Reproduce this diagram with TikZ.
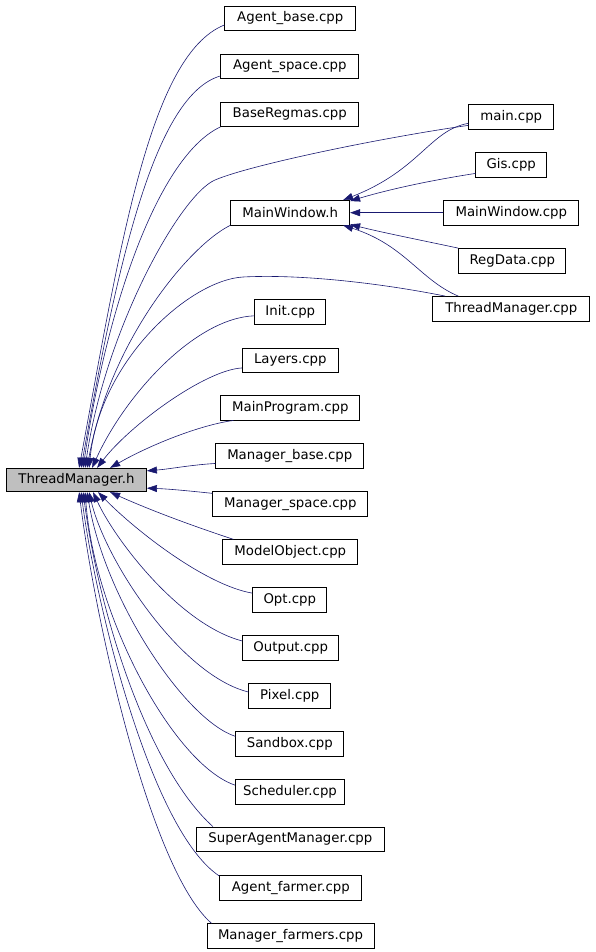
\documentclass[tikz,border=0pt]{standalone}
\usepackage{fontspec}
\setmainfont{DejaVu Sans}
\usetikzlibrary{arrows.meta,calc}
\definecolor{edgeblue}{HTML}{191970}
\definecolor{tmgray}{HTML}{BFBFBF}
\newcommand\dvsfont{\fontsize{13.3}{16}\selectfont}
\tikzset{
  box/.style={draw=black, line width=0.8pt, minimum height=24.5pt, inner sep=0pt, font=\dvsfont, fill=white},
  dep/.style={draw=edgeblue, line width=0.6pt, -{Triangle[length=10pt,width=7pt]}}
}
\begin{document}
\begin{tikzpicture}[x=1pt,y=-1pt]
\useasboundingbox (0,0) rectangle (595,952);
% nodes
\node[box, fill=tmgray, minimum width=140pt, minimum height=23.5pt] (tmh) at (76.5,480) {ThreadManager.h};
\node[box, minimum width=131pt] (ab) at (290.3,18.3) {Agent\_base.cpp};
\node[box, minimum width=138pt] (as) at (289.8,66.3) {Agent\_space.cpp};
\node[box, minimum width=138pt] (br) at (289.8,114.3) {BaseRegmas.cpp};
\node[box, minimum width=85pt] (main) at (511.3,116.7) {main.cpp};
\node[box, minimum width=71pt] (gis) at (511.2,164.8) {Gis.cpp};
\node[box, minimum width=119pt] (mwh) at (290.2,212.7) {MainWindow.h};
\node[box, minimum width=135pt] (mwc) at (511.3,212.7) {MainWindow.cpp};
\node[box, minimum width=107pt] (rd) at (512.3,260.8) {RegData.cpp};
\node[box, minimum width=157pt] (tmc) at (511.3,308.8) {ThreadManager.cpp};
\node[box, minimum width=71pt] (init) at (290.3,311.8) {Init.cpp};
\node[box, minimum width=96pt] (lay) at (290.3,360.3) {Layers.cpp};
\node[box, minimum width=139pt] (mp) at (290.3,407.8) {MainProgram.cpp};
\node[box, minimum width=148pt] (mb) at (289.8,455.8) {Manager\_base.cpp};
\node[box, minimum width=155pt] (ms) at (290.3,504) {Manager\_space.cpp};
\node[box, minimum width=135pt] (mo) at (290.3,552) {ModelObject.cpp};
\node[box, minimum width=74pt] (opt) at (289.8,599.8) {Opt.cpp};
\node[box, minimum width=96pt] (out) at (290.8,648) {Output.cpp};
\node[box, minimum width=82pt] (pix) at (289.8,696) {Pixel.cpp};
\node[box, minimum width=108pt] (sand) at (289.8,744) {Sandbox.cpp};
\node[box, minimum width=109pt] (sch) at (290,791.8) {Scheduler.cpp};
\node[box, minimum width=188pt] (sam) at (290.3,839.2) {SuperAgentManager.cpp};
\node[box, minimum width=142pt] (af) at (290.8,887.7) {Agent\_farmer.cpp};
\node[box, minimum width=167pt] (mf) at (290.5,936) {Manager\_farmers.cpp};
% target points on ThreadManager.h
\coordinate (t1) at ($(tmh.north west)+(73,0)$);
\coordinate (t2) at ($(tmh.north west)+(75,0)$);
\coordinate (t3) at ($(tmh.north west)+(77,0)$);
\coordinate (t4) at ($(tmh.north west)+(79,0)$);
\coordinate (t5) at ($(tmh.north west)+(81,0)$);
\coordinate (t6) at ($(tmh.north west)+(83,0)$);
\coordinate (t7) at ($(tmh.north west)+(86,0)$);
\coordinate (t8) at ($(tmh.north west)+(91,0)$);
\coordinate (t9) at ($(tmh.north west)+(104,0)$);
\coordinate (t10) at ($(tmh.north east)+(0,3)$);
\coordinate (t11) at ($(tmh.south east)+(0,-4)$);
\coordinate (t12) at ($(tmh.south west)+(104,0)$);
\coordinate (t13) at ($(tmh.south west)+(92,0)$);
\coordinate (t14) at ($(tmh.south west)+(87,0)$);
\coordinate (t15) at ($(tmh.south west)+(83,0)$);
\coordinate (t16) at ($(tmh.south west)+(81,0)$);
\coordinate (t17) at ($(tmh.south west)+(79,0)$);
\coordinate (t18) at ($(tmh.south west)+(77,0)$);
\coordinate (t19) at ($(tmh.south west)+(75,0)$);
\coordinate (t20) at ($(tmh.south west)+(73,0)$);
% edges to ThreadManager.h
\draw[dep] ($(ab.south west)+(0,-6)$) .. controls (150,55) and (121,242) .. (t1);
\draw[dep] ($(as.south west)+(0,-3)$) .. controls (155,95) and (118,260) .. (t2);
\draw[dep] (br.south west) .. controls (160,155) and (108,300) .. (t3);
\draw[dep] ($(main.south west)+(0,-4)$) .. controls (380,138) and (250,165) .. (215,180) .. controls (180,195) and (105,330) .. (t4);
\draw[dep] (mwh.south west) .. controls (190,245) and (110,340) .. (t5);
\draw[dep] ($(tmc.north west)+(13,0)$) .. controls (380,283) and (300,274) .. (243,277) .. controls (190,280) and (100,360) .. (t6);
\draw[dep] ($(init.west)+(0,4)$) .. controls (195,318) and (125,395) .. (t7);
\draw[dep] ($(lay.south west)+(0,-5)$) .. controls (205,370) and (130,425) .. (t8);
\draw[dep] ($(mp.south west)+(13,0)$) .. controls (200,425) and (150,445) .. (t9);
\draw[dep] ($(mb.south west)+(0,-5)$) .. controls (190,465) and (170,469) .. (t10);
\draw[dep] ($(ms.north west)+(0,2)$) .. controls (190,491) and (170,489) .. (t11);
\draw[dep] ($(mo.north west)+(11,0)$) .. controls (190,525) and (150,510) .. (t12);
\draw[dep] ($(opt.north west)+(0,6)$) .. controls (205,585) and (135,530) .. (t13);
\draw[dep] ($(out.west)+(0,-7)$) .. controls (180,625) and (115,540) .. (t14);
\draw[dep] ($(pix.west)+(0,-4)$) .. controls (180,675) and (105,560) .. (t15);
\draw[dep] ($(sand.north west)+(0,5)$) .. controls (185,720) and (105,600) .. (t16);
\draw[dep] ($(sch.north west)+(0,6)$) .. controls (175,765) and (95,620) .. (t17);
\draw[dep] ($(sam.north west)+(17,0)$) .. controls (150,770) and (100,620) .. (t18);
\draw[dep] ($(af.north west)+(0,1)$) .. controls (150,830) and (95,600) .. (t19);
\draw[dep] ($(mf.north west)+(5,0)$) .. controls (150,870) and (95,620) .. (t20);
% edges to MainWindow.h
\draw[dep] ($(main.south west)+(0,-6)$) .. controls (430,130) and (420,170) .. ($(mwh.north east)+(-7,0)$);
\draw[dep] ($(gis.south west)+(0,-4)$) .. controls (420,182) and (380,192) .. ($(mwh.north east)+(0,1)$);
\draw[dep] (mwc.west) -- (mwh.east);
\draw[dep] (rd.north west) .. controls (420,240) and (380,232) .. ($(mwh.south east)+(0,-1)$);
\draw[dep] ($(tmc.north west)+(26,0)$) .. controls (420,280) and (405,245) .. ($(mwh.south east)+(-7,0)$);
\end{tikzpicture}
\end{document}
